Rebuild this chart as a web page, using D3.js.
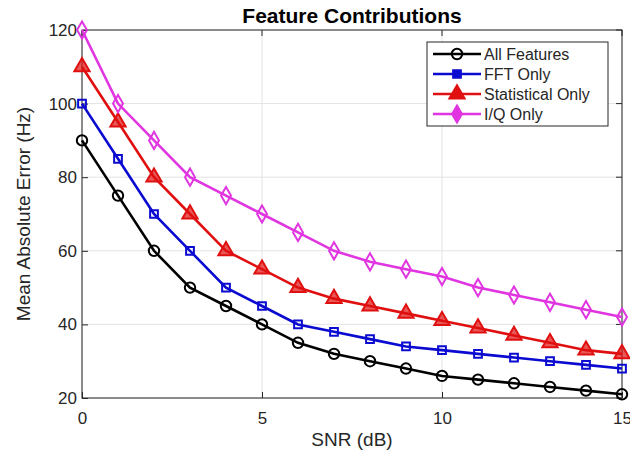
<!DOCTYPE html>
<html>
<head>
<meta charset="utf-8">
<script src="https://cdn.jsdelivr.net/npm/d3@7"></script>
<style>
  body { margin: 0; background: #fff; }
  text { font-family: "Liberation Sans", Arial, sans-serif; }
</style>
</head>
<body>
<div id="chart"></div>
<script>
const snr = [0, 1, 2, 3, 4, 5, 6, 7, 8, 9, 10, 11, 12, 13, 14, 15];
const allFeatures = [90, 75, 60, 50, 45, 40, 35, 32, 30, 28, 26, 25, 24, 23, 22, 21];
const fftOnly = [100, 85, 70, 60, 50, 45, 40, 38, 36, 34, 33, 32, 31, 30, 29, 28];
const statOnly = [110, 95, 80, 70, 60, 55, 50, 47, 45, 43, 41, 39, 37, 35, 33, 32];
const iqOnly = [120, 100, 90, 80, 75, 70, 65, 60, 57, 55, 53, 50, 48, 46, 44, 42];
const xTicks = [0, 5, 10, 15];
const yTicks = [20, 40, 60, 80, 100, 120];

const series = [
  { name: 'All Features', values: allFeatures, color: '#000000', marker: 'circle' },
  { name: 'FFT Only', values: fftOnly, color: '#0a0ad0', marker: 'square' },
  { name: 'Statistical Only', values: statOnly, color: '#e01010', marker: 'triangle' },
  { name: 'I/Q Only', values: iqOnly, color: '#e035e0', marker: 'diamond' }
];

const width = 630, height = 454;
const margin = { top: 30, right: 8, bottom: 56, left: 82 };
const w = width - margin.left - margin.right;
const h = height - margin.top - margin.bottom;

const svg = d3.select('#chart').append('svg')
  .attr('width', width)
  .attr('height', height);

const g = svg.append('g')
  .attr('transform', `translate(${margin.left},${margin.top})`);

const x = d3.scaleLinear().domain([0, 15]).range([0, w]);
const y = d3.scaleLinear().domain([20, 120]).range([h, 0]);

// grid
g.append('g').selectAll('line').data(xTicks).enter().append('line')
  .attr('x1', d => x(d)).attr('x2', d => x(d))
  .attr('y1', 0).attr('y2', h)
  .attr('stroke', '#e3e3e3').attr('stroke-width', 1);
g.append('g').selectAll('line').data(yTicks).enter().append('line')
  .attr('y1', d => y(d)).attr('y2', d => y(d))
  .attr('x1', 0).attr('x2', w)
  .attr('stroke', '#e3e3e3').attr('stroke-width', 1);

// axes (ticks inside, matlab style)
const axisColor = '#262626';
const xAxis = g.append('g').attr('transform', `translate(0,${h})`)
  .call(d3.axisBottom(x).tickValues(xTicks).tickSize(-6).tickPadding(14));
const yAxis = g.append('g')
  .call(d3.axisLeft(y).tickValues(yTicks).tickSize(-6).tickPadding(5));
[xAxis, yAxis].forEach(a => {
  a.select('.domain').remove();
  a.selectAll('line').attr('stroke', axisColor);
  a.selectAll('text').attr('fill', axisColor).style('font-size', '17px');
});
// top/right ticks
g.append('g').selectAll('line').data(xTicks).enter().append('line')
  .attr('x1', d => x(d)).attr('x2', d => x(d)).attr('y1', 0).attr('y2', 6)
  .attr('stroke', axisColor);
g.append('g').selectAll('line').data(yTicks).enter().append('line')
  .attr('y1', d => y(d)).attr('y2', d => y(d)).attr('x1', w).attr('x2', w - 6)
  .attr('stroke', axisColor);

g.append('rect')
  .attr('width', w).attr('height', h)
  .attr('fill', 'none').attr('stroke', axisColor).attr('stroke-width', 1);

// markers
const symbolFor = {
  circle: d3.symbol().type(d3.symbolCircle).size(85),
  square: d3.symbol().type(d3.symbolSquare).size(60),
  triangle: d3.symbol().type(d3.symbolTriangle).size(100),
  diamond: d3.symbol().type(d3.symbolDiamond).size(85)
};

const line = d3.line().x((d, i) => x(snr[i])).y(d => y(d));

series.forEach(s => {
  const sg = g.append('g');
  sg.append('path')
    .datum(s.values)
    .attr('d', line)
    .attr('fill', 'none')
    .attr('stroke', s.color)
    .attr('stroke-width', 2.6);
  sg.selectAll('path.m').data(s.values).enter().append('path')
    .attr('class', 'm')
    .attr('d', symbolFor[s.marker])
    .attr('transform', (d, i) => `translate(${x(snr[i])},${y(d)})`)
    .attr('fill', s.marker === 'triangle' ? s.color : 'none')
    .attr('fill-opacity', s.marker === 'triangle' ? 0.7 : 1)
    .attr('stroke', s.color)
    .attr('stroke-width', 2);
});

// legend
const lg = svg.append('g').attr('transform', 'translate(427,42)');
lg.append('rect')
  .attr('width', 181).attr('height', 84)
  .attr('fill', '#fff').attr('stroke', axisColor).attr('stroke-width', 1);
series.forEach((s, i) => {
  const yy = 12 + i * 20;
  lg.append('line')
    .attr('x1', 6).attr('x2', 54).attr('y1', yy).attr('y2', yy)
    .attr('stroke', s.color).attr('stroke-width', 2.6);
  lg.append('path')
    .attr('d', symbolFor[s.marker])
    .attr('transform', `translate(30,${yy})`)
    .attr('fill', s.marker === 'circle' ? 'none' : s.color)
    .attr('stroke', s.color).attr('stroke-width', 2);
  lg.append('text')
    .attr('x', 57).attr('y', yy).attr('dy', '0.36em')
    .attr('fill', axisColor)
    .style('font-size', '16px')
    .text(s.name);
});

// title and labels
svg.append('text')
  .attr('x', margin.left + w / 2).attr('y', 23)
  .attr('text-anchor', 'middle')
  .style('font-size', '21px').style('font-weight', 'bold')
  .attr('fill', '#000')
  .text('Feature Contributions');

svg.append('text')
  .attr('x', margin.left + w / 2).attr('y', 446)
  .attr('text-anchor', 'middle')
  .style('font-size', '19px')
  .attr('fill', axisColor)
  .text('SNR (dB)');

svg.append('text')
  .attr('transform', `translate(30,${margin.top + h / 2}) rotate(-90)`)
  .attr('text-anchor', 'middle')
  .style('font-size', '19px')
  .attr('fill', axisColor)
  .text('Mean Absolute Error (Hz)');
</script>
</body>
</html>
